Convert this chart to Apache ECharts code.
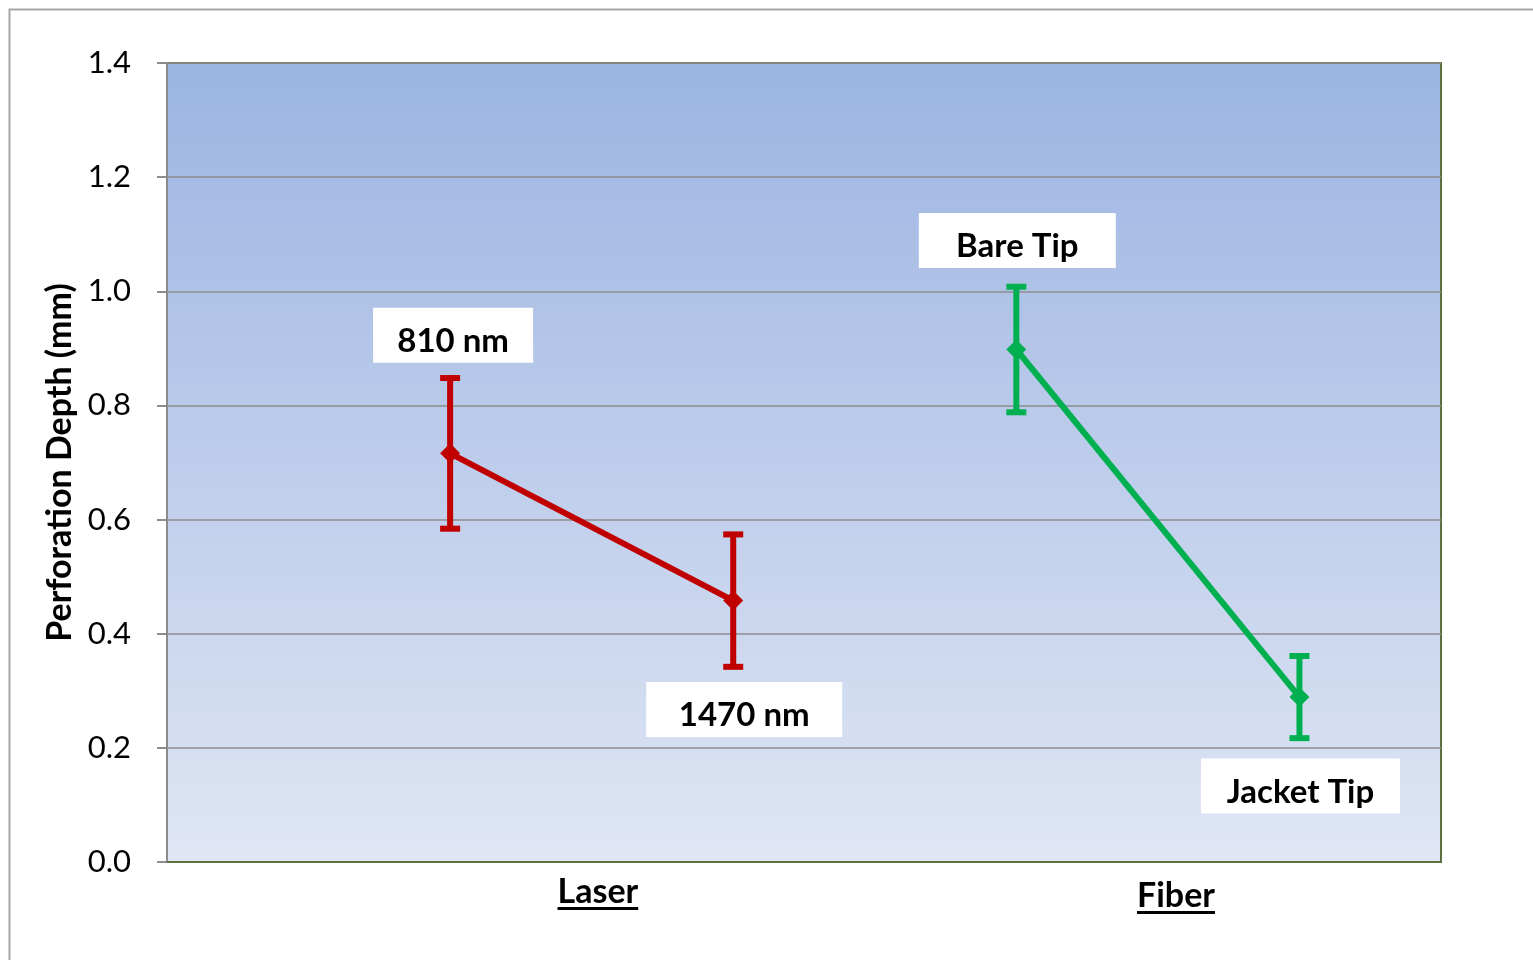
<!DOCTYPE html>
<html>
<head>
<meta charset="utf-8">
<script src="https://cdn.jsdelivr.net/npm/echarts@6/dist/echarts.min.js"></script>
<style>
html,body{margin:0;padding:0;background:#fff;}
#chart{width:1533px;height:960px;}
</style>
</head>
<body>
<div id="chart"></div>
<script>
// ---- data ----
const xPositions = [1, 2, 3, 4];
const pointLabels = ['810 nm', '1470 nm', 'Bare Tip', 'Jacket Tip'];
const means = [0.716, 0.458, 0.898, 0.289];
const errors = [0.132, 0.116, 0.110, 0.072];
const groupNames = ['Laser', 'Fiber'];
const groupMembers = [[0, 1], [2, 3]];
const groupColors = ['#C00000', '#00B050'];
const yAxisTitle = 'Perforation Depth (mm)';

// ---- layout (not data) ----
const labelOffsets = [[3, -118], [11, 109], [1, -109], [1, 89]];
const labelWidths = [160, 196, 197, 199];
const groupLabelX = [1.522, 3.564];
const groupLabelY = [892, 896];
const FONT = 'Lato, "Open Sans", sans-serif';

const chart = echarts.init(document.getElementById('chart'));

const series = [];
groupMembers.forEach((idxs, g) => {
  const color = groupColors[g];
  series.push({
    type: 'custom',
    name: groupNames[g] + ' err',
    z: 3,
    data: idxs.map(i => [xPositions[i], means[i] - errors[i], means[i] + errors[i]]),
    renderItem: function (params, api) {
      const x = api.value(0);
      const lo = api.coord([x, api.value(1)]);
      const hi = api.coord([x, api.value(2)]);
      const cw = 10;
      const st = { stroke: color, lineWidth: 6 };
      return {
        type: 'group',
        children: [
          { type: 'line', shape: { x1: lo[0], y1: lo[1], x2: hi[0], y2: hi[1] }, style: st },
          { type: 'line', shape: { x1: lo[0] - cw, y1: lo[1], x2: lo[0] + cw, y2: lo[1] }, style: st },
          { type: 'line', shape: { x1: hi[0] - cw, y1: hi[1], x2: hi[0] + cw, y2: hi[1] }, style: st }
        ]
      };
    }
  });
  series.push({
    type: 'line',
    name: groupNames[g],
    z: 4,
    symbol: 'diamond',
    symbolSize: 20,
    showSymbol: true,
    lineStyle: { color: color, width: 6 },
    itemStyle: { color: color },
    data: idxs.map(i => ({
      value: [xPositions[i], means[i]],
      label: {
        show: true,
        formatter: '{s| }\n{t|' + pointLabels[i] + '}',
        position: 'inside',
        offset: labelOffsets[i],
        backgroundColor: '#ffffff',
        width: labelWidths[i],
        align: 'center',
        verticalAlign: 'middle',
        rich: {
          s: { fontSize: 8, lineHeight: 12, height: 12 },
          t: {
            fontFamily: FONT, fontSize: 33, fontWeight: 'bold', color: '#000',
            lineHeight: 43, height: 43
          }
        }
      }
    })),
    emphasis: { disabled: true },
    animation: false
  });
});

chart.setOption({
  animation: false,
  backgroundColor: '#ffffff',
  grid: {
    left: 167, top: 63, right: 92, bottom: 98,
    show: true,
    borderColor: '#5E7040',
    borderWidth: 2,
    backgroundColor: {
      type: 'linear', x: 0, y: 0, x2: 0, y2: 1,
      colorStops: [
        { offset: 0, color: '#9BB4E2' },
        { offset: 1, color: '#E0E6F4' }
      ]
    }
  },
  xAxis: {
    type: 'value',
    min: 0, max: 4.5,
    axisLine: { show: true, lineStyle: { color: '#5E7040', width: 2 } },
    axisTick: { show: false },
    axisLabel: { show: false },
    splitLine: { show: false }
  },
  yAxis: {
    type: 'value',
    min: 0, max: 1.4, interval: 0.2,
    name: yAxisTitle,
    nameLocation: 'middle',
    nameGap: 88,
    nameTextStyle: { fontFamily: FONT, fontSize: 34, fontWeight: 'bold', color: '#000' },
    axisLine: { show: true, lineStyle: { color: '#8C8C8C', width: 2 } },
    axisTick: { show: true, length: 10, lineStyle: { color: '#8C8C8C', width: 2 } },
    axisLabel: {
      margin: 36,
      fontFamily: FONT, fontSize: 31, color: '#000',
      formatter: v => v.toFixed(1)
    },
    splitLine: { show: true, lineStyle: { color: '#8C8C8C', width: 1.5 } }
  },
  series: series
});

// group labels (underlined) and outer frame
const measure = document.createElement('canvas').getContext('2d');
measure.font = 'bold 34px ' + FONT;
const graphics = [
  {
    type: 'rect', silent: true, z: 0,
    shape: { x: 9.5, y: 9.5, width: 1600, height: 1000 },
    style: { fill: null, stroke: '#A6A6A6', lineWidth: 2 }
  }
];
groupNames.forEach((name, g) => {
  const px = chart.convertToPixel({ xAxisIndex: 0 }, groupLabelX[g]);
  const w = measure.measureText(name).width;
  graphics.push({
    type: 'text', silent: true,
    x: px, y: groupLabelY[g],
    style: { text: name, fontFamily: FONT, fontSize: 34, fontWeight: 'bold', fill: '#000', align: 'center', verticalAlign: 'middle' }
  });
  graphics.push({
    type: 'rect', silent: true,
    shape: { x: px - w / 2, y: groupLabelY[g] + 15, width: w, height: 3 },
    style: { fill: '#000' }
  });
});
chart.setOption({ graphic: graphics });
</script>
</body>
</html>
